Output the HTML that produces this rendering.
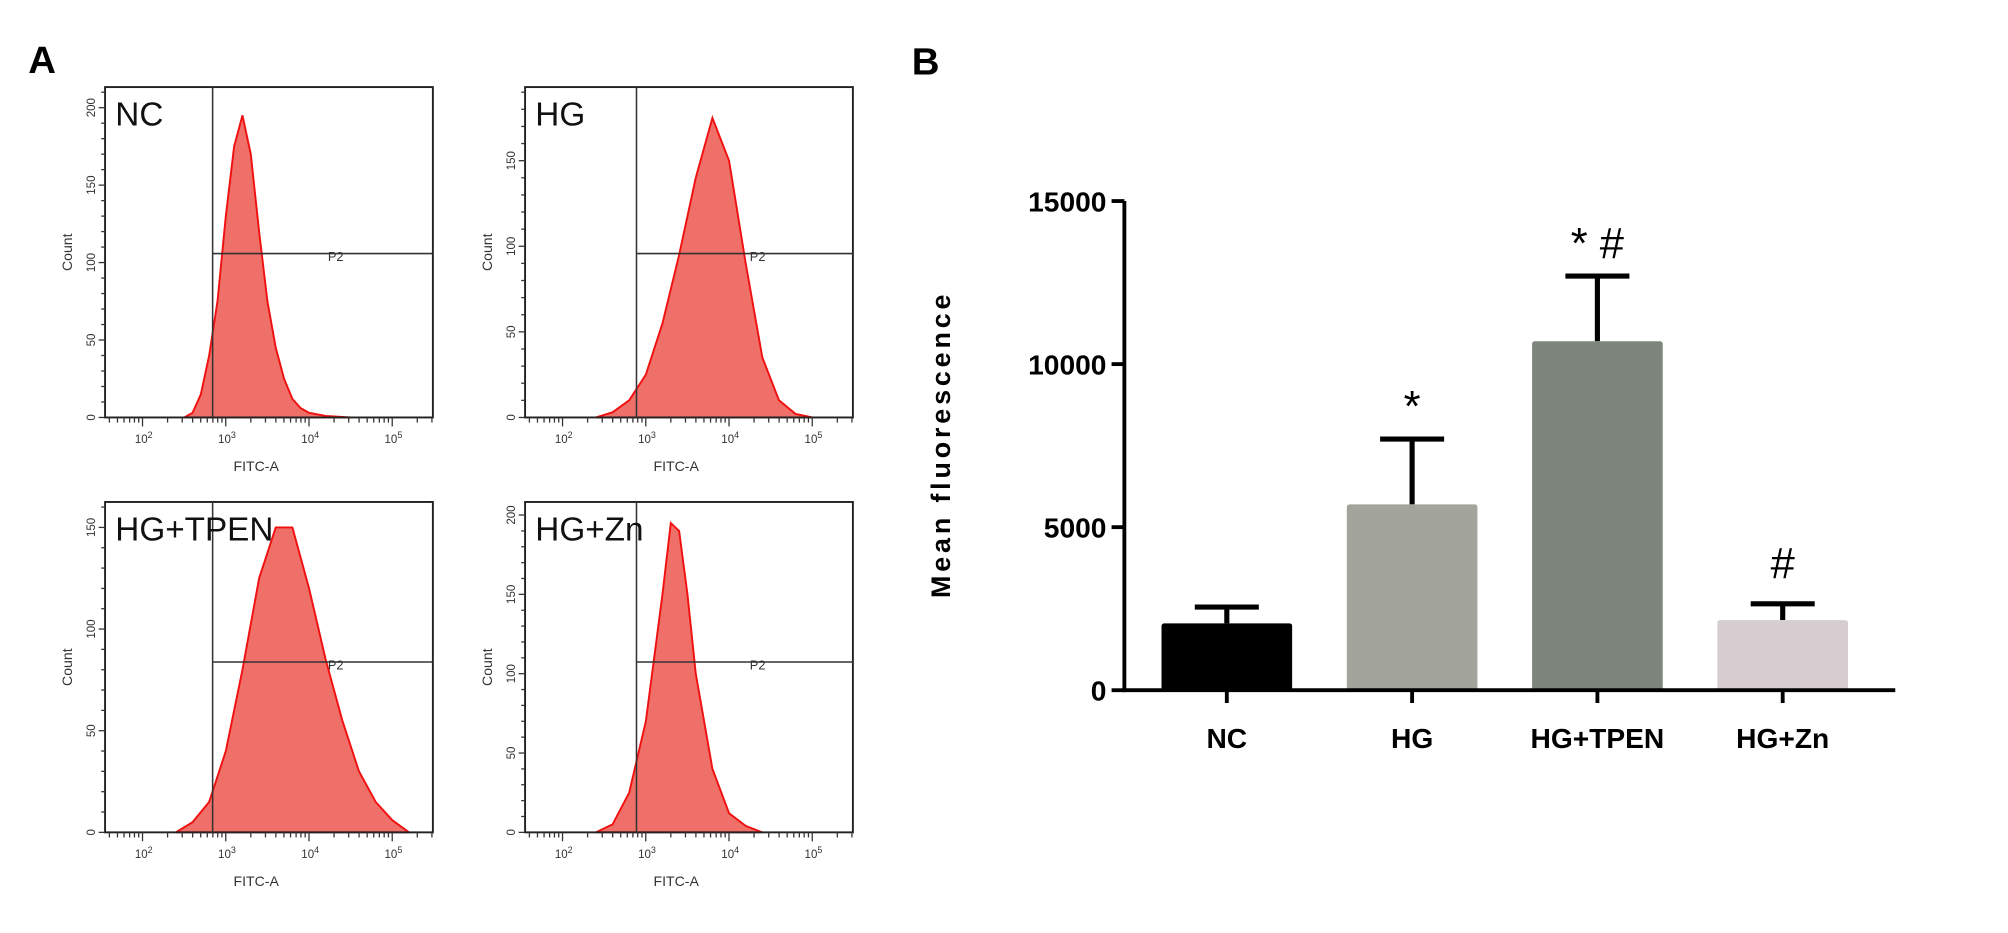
<!DOCTYPE html>
<html><head><meta charset="utf-8"><style>
html,body{margin:0;padding:0;background:#fff;}
svg{display:block;font-family:"Liberation Sans",sans-serif;}
</style></head><body>
<svg id="fig" width="2008" height="933" viewBox="0 0 1568 728.6">
<text x="22" y="57" font-size="30" font-weight="bold">A</text>
<text x="712" y="58" font-size="30" font-weight="bold">B</text>
<g id="panelA"></g>
<g id="panelB"></g>
</svg>
<script>
// ---- Panel B data ----
const groups = ["NC","HG","HG+TPEN","HG+Zn"];
const means = [2050, 5700, 10700, 2150];
const errors = [500, 2000, 2000, 500];
const marks = ["", "*", "* #", "#"];
const yTicks = [0, 5000, 10000, 15000];
const barColors = ["#000000","#a3a59c","#7e857c","#d5cdcf"];

// ---- Panel A data (counts at log10 FITC positions) ----
const ncLog = [2.5,2.6,2.7,2.8,2.9,3.0,3.1,3.2,3.3,3.4,3.5,3.6,3.7,3.8,3.9,4.0,4.2,4.5];
const ncCount = [0,3,15,40,75,130,175,195,170,120,75,45,25,12,6,3,1,0];
const hgLog = [2.4,2.6,2.8,3.0,3.2,3.4,3.6,3.8,4.0,4.2,4.4,4.6,4.8,5.0];
const hgCount = [0,3,10,25,55,95,140,175,150,90,35,10,2,0];
const tpLog = [2.4,2.6,2.8,3.0,3.2,3.4,3.6,3.8,4.0,4.2,4.4,4.6,4.8,5.0,5.2];
const tpCount = [0,5,15,40,80,125,150,150,120,85,55,30,15,6,0];
const znLog = [2.4,2.6,2.8,3.0,3.2,3.3,3.4,3.5,3.6,3.8,4.0,4.2,4.4];
const znCount = [0,5,25,70,150,195,190,150,100,40,12,4,0];

const NS="http://www.w3.org/2000/svg";
function mk(tag, attrs, parent, text){
  const e=document.createElementNS(NS,tag);
  for(const k in attrs) e.setAttribute(k, attrs[k]);
  if(text!==undefined) e.textContent=text;
  parent.appendChild(e); return e;
}

// ---- Panel B ----
const B=document.getElementById('panelB');
const ax0=878, ax1=1480, yTop=157, yBot=539, yMax=15000;
const yS=v=>yBot-(v/yMax)*(yBot-yTop);
const xC=i=>958+i*144.7;
const bw=102;
groups.forEach((g,i)=>{
  const cx=xC(i);
  const top=yS(means[i]+errors[i]);
  const l=mk('line',{x1:cx,x2:cx,y1:top,y2:yS(means[i]),stroke:'#000','stroke-width':4},B);
  
  
  const c=mk('line',{x1:cx-25,x2:cx+25,y1:top,y2:top,stroke:'#000','stroke-width':4},B);
  
  
  const r=mk('rect',{x:cx-bw/2,y:yS(means[i]),width:bw,height:yBot-yS(means[i]),fill:barColors[i],rx:2},B);
  
  
  const t=mk('line',{x1:cx,x2:cx,y1:yBot,y2:yBot+10,stroke:'#000','stroke-width':3},B);
  
  
  const lb=mk('text',{x:cx,y:yBot+45,'font-size':22,'font-weight':'bold','text-anchor':'middle'},B,g);
  
  
  if(marks[i]){
    const m=mk('text',{x:cx,y:top-(marks[i]==='#'?20:14),'font-size':34,'text-anchor':'middle'},B,marks[i]);
    
    
  }
});
const ya=mk('line',{x1:ax0,x2:ax0,y1:yTop,y2:yBot+1.5,stroke:'#000','stroke-width':3},B);


const xa=mk('line',{x1:ax0-1.5,x2:ax1,y1:yBot,y2:yBot,stroke:'#000','stroke-width':3},B);


yTicks.forEach(v=>{
  const t=mk('line',{x1:ax0-10,x2:ax0,y1:yS(v),y2:yS(v),stroke:'#000','stroke-width':3},B);
  
  
  const l=mk('text',{x:ax0-14,y:yS(v)+8,'font-size':22,'font-weight':'bold','text-anchor':'end'},B,String(v));
  
  
});
const yt=mk('text',{x:0,y:0,'font-size':21,'font-weight':'bold','text-anchor':'middle','letter-spacing':'3',transform:'translate(742,347) rotate(-90)'},B,'Mean  fluorescence');



// ---- Panel A ----
const A=document.getElementById('panelA');
const panels=[
 {name:'NC',x:82,y:68,logs:ncLog,counts:ncCount,maxC:210,ticks:[0,50,100,150,200],gx:166,gy:198},
 {name:'HG',x:410,y:68,logs:hgLog,counts:hgCount,maxC:190,ticks:[0,50,100,150],gx:497,gy:198},
 {name:'HG+TPEN',x:82,y:392,logs:tpLog,counts:tpCount,maxC:160,ticks:[0,50,100,150],gx:166,gy:517},
 {name:'HG+Zn',x:410,y:392,logs:znLog,counts:znCount,maxC:205,ticks:[0,50,100,150,200],gx:497,gy:517}
];
const W=256,H=258;
panels.forEach(p=>{
  const g=mk('g',{},A);
  
  
  const x0=p.x,y0=p.y,yb=y0+H;
  const xs=l=>x0+(l-1.55)*65;
  const ys=c=>yb-c/p.maxC*(H-4);
  let d='M'+xs(p.logs[0])+','+yb;
  p.logs.forEach((l,i)=>{d+=' L'+xs(l).toFixed(1)+','+ys(p.counts[i]).toFixed(1);});
  d+=' L'+xs(p.logs[p.logs.length-1])+','+yb+' Z';
  const h=mk('path',{d:d,fill:'#ee7068',stroke:'#f01010','stroke-width':1.5},g);
  
  
  const bx=mk('rect',{x:x0,y:y0,width:W,height:H,fill:'none',stroke:'#222','stroke-width':1.5},g);
  
  
  const gv=mk('line',{x1:p.gx,x2:p.gx,y1:y0,y2:yb,stroke:'#333','stroke-width':1.2},g);
  
  
  const gh=mk('line',{x1:p.gx,x2:x0+W,y1:p.gy,y2:p.gy,stroke:'#333','stroke-width':1.2},g);
  
  
  const pl=mk('text',{x:(p.gx+x0+W)/2+4,y:p.gy+6,'font-size':10,fill:'#333'},g,'P2');
  
  
  const nm=mk('text',{x:x0+8,y:y0+30,'font-size':26,fill:'#111'},g,p.name);
  
  
  for(let c=0;c<=p.maxC;c+=10){
    mk('line',{x1:x0-(c%50===0?5:3),x2:x0,y1:ys(c),y2:ys(c),stroke:'#333','stroke-width':1},g);
  }
  p.ticks.forEach(c=>{
    const t=mk('text',{x:0,y:0,'font-size':9,fill:'#333','text-anchor':'middle',transform:`translate(${x0-8},${ys(c)}) rotate(-90)`},g,String(c));
    
    
  });
  const ct=mk('text',{x:0,y:0,'font-size':11,fill:'#333','text-anchor':'middle',transform:`translate(${x0-26},${y0+H/2}) rotate(-90)`},g,'Count');
  
  
  for(let dec=1;dec<=5;dec++){
    for(let m=1;m<10;m++){
      const l=dec+Math.log10(m);
      const xx=xs(l);
      if(xx<x0||xx>x0+W) continue;
      mk('line',{x1:xx,x2:xx,y1:yb,y2:yb+(m===1?7:4),stroke:'#333','stroke-width':1},g);
    }
  }
  [2,3,4,5].forEach(dec=>{
    const t=mk('text',{x:xs(dec)-6,y:yb+20,'font-size':9,fill:'#333'},g);
    t.innerHTML='10<tspan dy="-4" font-size="7">'+dec+'</tspan>';
    
    
  });
  const xt=mk('text',{x:x0+W/2-10,y:yb+42,'font-size':11,fill:'#333','text-anchor':'middle'},g,'FITC-A');
  
  
});
</script>
</body></html>
